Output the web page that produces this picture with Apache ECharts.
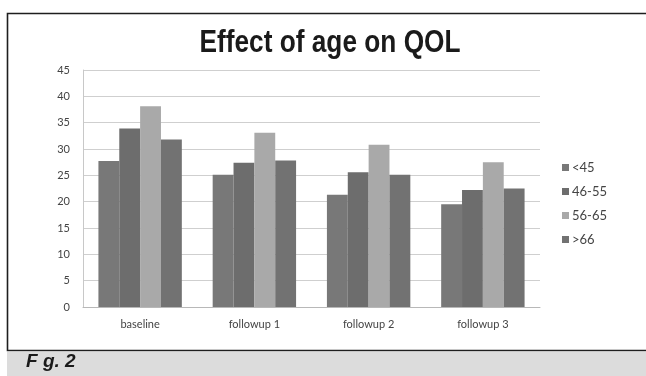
<!DOCTYPE html>
<html>
<head>
<meta charset="utf-8">
<script src="https://cdn.jsdelivr.net/npm/echarts@6/dist/echarts.min.js"></script>
<style>
  html, body { margin: 0; padding: 0; background: #ffffff; }
  #chart { width: 646px; height: 376px; }
</style>
</head>
<body>
<div id="chart"></div>
<script>
// 横轴类别
var categories = ['baseline', 'followup 1', 'followup 2', 'followup 3'];
// 各年龄组数值
var seriesNames = ['<45', '46-55', '56-65', '>66'];
var under45 = [27.7, 25.1, 21.3, 19.5];
var age46to55 = [33.9, 27.4, 25.6, 22.2];
var age56to65 = [38.1, 33.1, 30.8, 27.5];
var over66 = [31.8, 27.8, 25.1, 22.5];
var barColors = ['#787878', '#6d6d6d', '#a9a9a9', '#727272'];

var chart = echarts.init(document.getElementById('chart'), null, { renderer: 'canvas' });

function makeSeries(name, data, color) {
  return {
    name: name,
    type: 'bar',
    data: data,
    barGap: '0%',
    barCategoryGap: '27%',
    itemStyle: { color: color },
    emphasis: { disabled: true }
  };
}

chart.setOption({
  animation: false,
  legend: {
    orient: 'vertical',
    left: 557,
    top: 156,
    itemWidth: 7,
    itemHeight: 7,
    itemGap: 11,
    icon: 'rect',
    data: seriesNames,
    textStyle: { fontFamily: 'Lato, sans-serif', fontSize: 13, color: '#444', padding: [0, 0, 0, -2] }
  },
  grid: { left: 83, right: 106, top: 70, bottom: 69, containLabel: false },
  xAxis: {
    type: 'category',
    data: categories,
    axisLine: { lineStyle: { color: '#b8b8b8' } },
    axisTick: { show: false },
    axisLabel: { fontFamily: 'Lato, sans-serif', fontSize: 11, color: '#444', margin: 12 }
  },
  yAxis: {
    type: 'value',
    min: 0,
    max: 45,
    interval: 5,
    axisLine: { show: true, lineStyle: { color: '#c8c8c8' } },
    axisTick: { show: false },
    splitLine: { lineStyle: { color: '#cfcfcf' } },
    axisLabel: { fontFamily: 'Lato, sans-serif', fontSize: 11, color: '#444', margin: 13 }
  },
  series: [
    makeSeries(seriesNames[0], under45, barColors[0]),
    makeSeries(seriesNames[1], age46to55, barColors[1]),
    makeSeries(seriesNames[2], age56to65, barColors[2]),
    makeSeries(seriesNames[3], over66, barColors[3])
  ],
  graphic: [
    // 外框
    {
      type: 'rect',
      silent: true,
      z: -1,
      shape: { x: 7.5, y: 13.5, width: 660, height: 337 },
      style: { fill: '#ffffff', stroke: '#1e1e1e', lineWidth: 1.6 }
    },
    // 标题：原图为窄体字，这里横向压缩
    {
      type: 'text',
      silent: true,
      x: 330,
      y: 27,
      scaleX: 0.82,
      style: {
        text: 'Effect of age on QOL',
        align: 'center',
        verticalAlign: 'top',
        font: 'bold 32px "Liberation Sans", Arial, sans-serif',
        fill: '#1a1a1a'
      }
    },
    // 图注底色
    {
      type: 'rect',
      silent: true,
      z: -1,
      shape: { x: 7, y: 352, width: 640, height: 24 },
      style: { fill: '#dcdcdc' }
    },
    {
      type: 'text',
      silent: true,
      left: 26,
      top: 352,
      style: {
        text: 'F g. 2',
        font: 'italic bold 19px "Liberation Sans", sans-serif',
        fill: '#1a1a1a'
      }
    }
  ]
});
</script>
</body>
</html>
